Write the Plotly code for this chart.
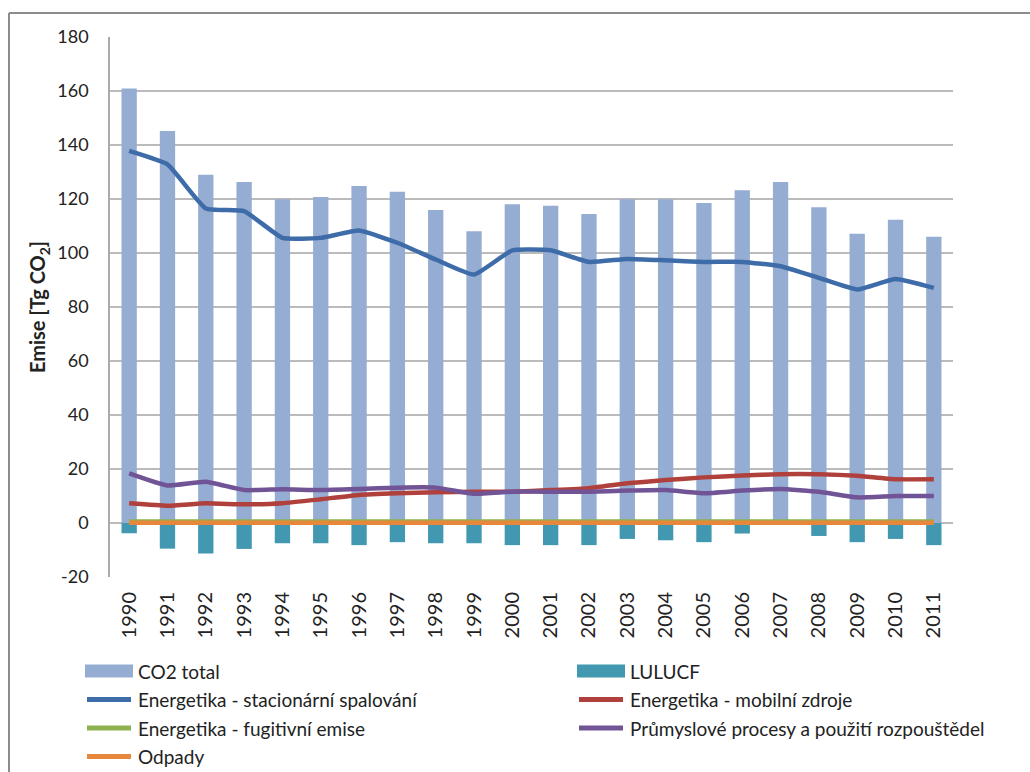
import plotly.graph_objects as go

years = [str(y) for y in range(1990, 2012)]

co2_total = [160.9, 145.2, 129.0, 126.3, 119.9, 120.7, 124.8, 122.7, 115.9, 108.1, 118.1,
             117.5, 114.4, 119.9, 119.9, 118.5, 123.2, 126.3, 116.9, 107.1, 112.3, 106.0]
lulucf = [-3.8, -9.5, -11.3, -9.6, -7.5, -7.5, -8.2, -7.1, -7.5, -7.5, -8.2,
          -8.2, -8.2, -5.9, -6.4, -7.1, -3.9, -0.3, -4.8, -7.1, -5.9, -8.2]
stacionarni = [137.8, 132.8, 116.5, 115.5, 105.6, 105.6, 108.3, 103.8, 97.6, 92.0, 101.0,
               101.0, 96.7, 97.8, 97.3, 96.7, 96.7, 95.1, 90.8, 86.5, 90.4, 87.1]
mobilni = [7.3, 6.4, 7.3, 6.9, 7.3, 8.8, 10.4, 11.0, 11.4, 11.6, 11.6,
           12.2, 12.9, 14.7, 15.9, 16.9, 17.6, 18.1, 18.1, 17.5, 16.2, 16.2]
fugitivni = [0.6] * 22
prumysl = [18.4, 13.9, 15.3, 12.2, 12.5, 12.2, 12.6, 13.1, 13.1, 10.8, 11.6,
           11.6, 11.6, 12.0, 12.2, 11.0, 12.0, 12.6, 11.6, 9.5, 10.0, 10.0]
odpady = [0.1] * 22

y_ticks = list(range(-20, 181, 20))
y_tick_labels = [str(v) for v in y_ticks]

FONT = "Lato, 'Liberation Sans Narrow', Carlito, sans-serif"
TEXT = "#222222"

# plot-area geometry in pixels (used for paper-coordinate conversion)
W, H = 1030, 772
ML, MR, MT, MB = 110, 77, 37, 195
PW, PH = W - ML - MR, H - MT - MB


def px_x(x):
    return (x - ML) / PW


def px_y(y):
    return (H - MB - y) / PH


bar_series = [
    ("CO2 total", co2_total, "#95ADD3"),
    ("LULUCF", lulucf, "#4198B0"),
]
line_series = [
    ("Energetika - stacionární spalování", stacionarni, "#3E6CA8"),
    ("Energetika - mobilní zdroje", mobilni, "#B0403C"),
    ("Energetika - fugitivní emise", fugitivni, "#8DB24D"),
    ("Průmyslové procesy a použití rozpouštědel", prumysl, "#705496"),
    ("Odpady", odpady, "#E6873C"),
]

fig = go.Figure()
for name, vals, col in bar_series:
    fig.add_trace(go.Bar(x=years, y=vals, name=name, width=0.4,
                         marker=dict(color=col, line=dict(width=0))))
for name, vals, col in line_series:
    fig.add_trace(go.Scatter(x=years, y=vals, name=name, mode="lines",
                             line=dict(color=col, width=4.5, shape="spline", smoothing=0.4)))

# legend: two columns, filled row by row
legend_cols = [85, 577]
legend_rows = [671, 699.5, 728, 756.5]
entries = [(n, c, "bar") for n, _, c in bar_series] + [(n, c, "line") for n, _, c in line_series]
for i, (name, col, kind) in enumerate(entries):
    x0 = legend_cols[i % 2]
    yc = legend_rows[i // 2]
    if kind == "bar":
        fig.add_shape(type="rect", xref="paper", yref="paper",
                      x0=px_x(x0), x1=px_x(x0 + 48), y0=px_y(yc - 6.5), y1=px_y(yc + 6.5),
                      fillcolor=col, line=dict(width=0))
    else:
        fig.add_shape(type="line", xref="paper", yref="paper",
                      x0=px_x(x0 + 2), x1=px_x(x0 + 46), y0=px_y(yc), y1=px_y(yc),
                      line=dict(color=col, width=5))
    fig.add_annotation(text=name, xref="paper", yref="paper", x=px_x(x0 + 51), y=px_y(yc),
                       xanchor="left", yanchor="middle", showarrow=False,
                       font=dict(family=FONT, size=19, color=TEXT))

# chart frame (top and left edges)
fig.add_shape(type="line", xref="paper", yref="paper", x0=px_x(9), x1=px_x(1035),
              y0=px_y(13), y1=px_y(13), line=dict(color="#8C8C8C", width=2))
fig.add_shape(type="line", xref="paper", yref="paper", x0=px_x(9), x1=px_x(9),
              y0=px_y(13), y1=px_y(780), line=dict(color="#8C8C8C", width=2))

fig.update_layout(
    width=W, height=H,
    margin=dict(l=ML, r=MR, t=MT, b=MB),
    paper_bgcolor="white", plot_bgcolor="white",
    barmode="overlay",
    font=dict(family=FONT, size=17, color=TEXT),
    showlegend=False,
    xaxis=dict(type="category", tickangle=-90, showgrid=False, showline=False,
               ticks="", tickfont=dict(family=FONT, size=20, color=TEXT),
               ticklabelstandoff=10),
    yaxis=dict(range=[-20, 180], tickvals=y_ticks, ticktext=y_tick_labels,
               showgrid=True, gridcolor="#BBBBBB",
               gridwidth=1.5, zeroline=False, showline=True, linecolor="#AAAAAA", linewidth=1.5,
               ticks="", tickfont=dict(family=FONT, size=18, color=TEXT),
               ticklabelstandoff=16,
               title=dict(text="<b>Emise [Tg CO<sub>2</sub>]</b>",
                          font=dict(family=FONT, size=20, color=TEXT), standoff=6)),
)

fig.write_html("out.html")
